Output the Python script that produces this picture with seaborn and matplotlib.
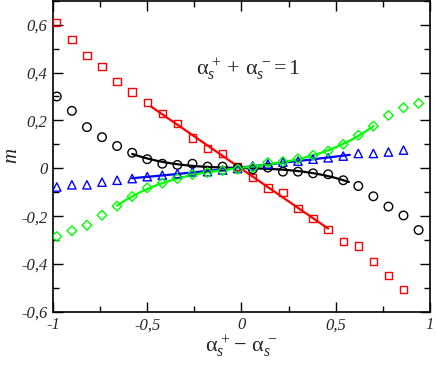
import numpy as np
import matplotlib
matplotlib.use('Agg')
import matplotlib.pyplot as plt
import seaborn as sns
from matplotlib.ticker import MultipleLocator

# valores
x_vals = [-0.98, -0.90, -0.82, -0.74, -0.66, -0.58, -0.50, -0.42, -0.34, -0.26, -0.18, -0.10, -0.02,
          0.06, 0.14, 0.22, 0.30, 0.38, 0.46, 0.54, 0.62, 0.70, 0.78, 0.86, 0.94]

m_cuadrados = [0.610, 0.537, 0.472, 0.426, 0.363, 0.319, 0.275, 0.228, 0.186, 0.126, 0.083, 0.061, 0.007,
               -0.039, -0.083, -0.100, -0.168, -0.210, -0.256, -0.305, -0.324, -0.389, -0.447, -0.507]
m_circulos = [0.300, 0.240, 0.172, 0.130, 0.093, 0.065, 0.038, 0.019, 0.014, 0.019, 0.007, 0.007, 0.001,
              -0.004, 0.003, -0.014, -0.014, -0.021, -0.025, -0.050, -0.074, -0.117, -0.160, -0.197, -0.258]
m_triangulos = [-0.078, -0.069, -0.069, -0.058, -0.050, -0.043, -0.035, -0.029, -0.022, -0.015, -0.014, -0.007, -0.001,
                0.010, 0.018, 0.026, 0.030, 0.038, 0.044, 0.051, 0.062, 0.062, 0.068, 0.076]
m_rombos = [-0.285, -0.261, -0.238, -0.196, -0.158, -0.118, -0.082, -0.062, -0.043, -0.026, -0.018, -0.010, -0.004,
            0.003, 0.024, 0.028, 0.040, 0.054, 0.072, 0.100, 0.138, 0.176, 0.221, 0.253, 0.271]

yticks = [-0.6, -0.4, -0.2, 0.0, 0.2, 0.4, 0.6]
ytick_labels = ['-0,6', '-0,4', '-0,2', '0', '0,2', '0,4', '0,6']
xticks = [-1, -0.5, 0, 0.5, 1]
xtick_labels = ['-1', '-0,5', '0', '0,5', '1']

sns.set_theme(style='ticks')
plt.rcParams['font.family'] = ['Liberation Serif', 'DejaVu Serif']
plt.rcParams['mathtext.fontset'] = 'custom'
plt.rcParams['mathtext.rm'] = 'Liberation Serif'
plt.rcParams['mathtext.it'] = 'Liberation Serif:italic'

fig = plt.figure(figsize=(4.36, 3.70), dpi=100)
ax = fig.add_axes([0.1216, 0.157, 0.8644, 0.841])

# series: (datos, color, marcador, tamaño, grado del ajuste, rango del ajuste)
series = [
    (m_cuadrados, '#ff0000', 's', 28, 1, (-0.48, 0.46)),
    (m_circulos, 'black', 'o', 38, 3, (-0.58, 0.57)),
    (m_triangulos, '#0000ff', '^', 36, 3, (-0.58, 0.575)),
    (m_rombos, '#00ff00', 'D', 24, 3, (-0.66, 0.70)),
]

for datos, color, marcador, tam, grado, (x0, x1) in series:
    xs = np.array(x_vals[:len(datos)])
    ys = np.array(datos)
    sns.scatterplot(x=xs, y=ys, marker=marcador, s=tam, facecolor='none',
                    edgecolor=color, linewidth=1.0, ax=ax, zorder=3)
    sel = (xs >= x0 - 0.05) & (xs <= x1 + 0.05)
    coef = np.polyfit(xs[sel], ys[sel], grado)
    xf = np.linspace(x0, x1, 100)
    sns.lineplot(x=xf, y=np.polyval(coef, xf), color=color, linewidth=1.6, ax=ax, zorder=2)

ax.set_xlim(-1, 1)
ax.set_ylim(-0.6, 0.7)
ax.set_xticks(xticks)
ax.set_xticklabels(xtick_labels, fontstyle='italic', fontsize=12)
ax.set_yticks(yticks)
ax.set_yticklabels(ytick_labels, fontstyle='italic', fontsize=12)
ax.xaxis.set_minor_locator(MultipleLocator(0.25))
ax.yaxis.set_minor_locator(MultipleLocator(0.1))
ax.tick_params(which='both', direction='in', top=True, right=True, width=1, color='black')
ax.tick_params(which='major', length=7, pad=4)
ax.tick_params(which='minor', length=4)
for sp in ax.spines.values():
    sp.set_linewidth(1.2)
    sp.set_color('black')

ax.set_xlabel(r'$\mathrm{\alpha}_s^{\,+}\!-\,\mathrm{\alpha}_s^{\,-}$', fontsize=16, labelpad=0)
ax.set_ylabel(r'$m$', fontsize=15)
ax.yaxis.set_label_coords(-0.082, 0.5)
ax.text(-0.24, 0.41, r'$\mathrm{\alpha}_s^{\,+}+\,\mathrm{\alpha}_s^{\,-}\!=\mathit{1}$', fontsize=16,
        ha='left', va='center')

plt.savefig('out.png', dpi=100)
